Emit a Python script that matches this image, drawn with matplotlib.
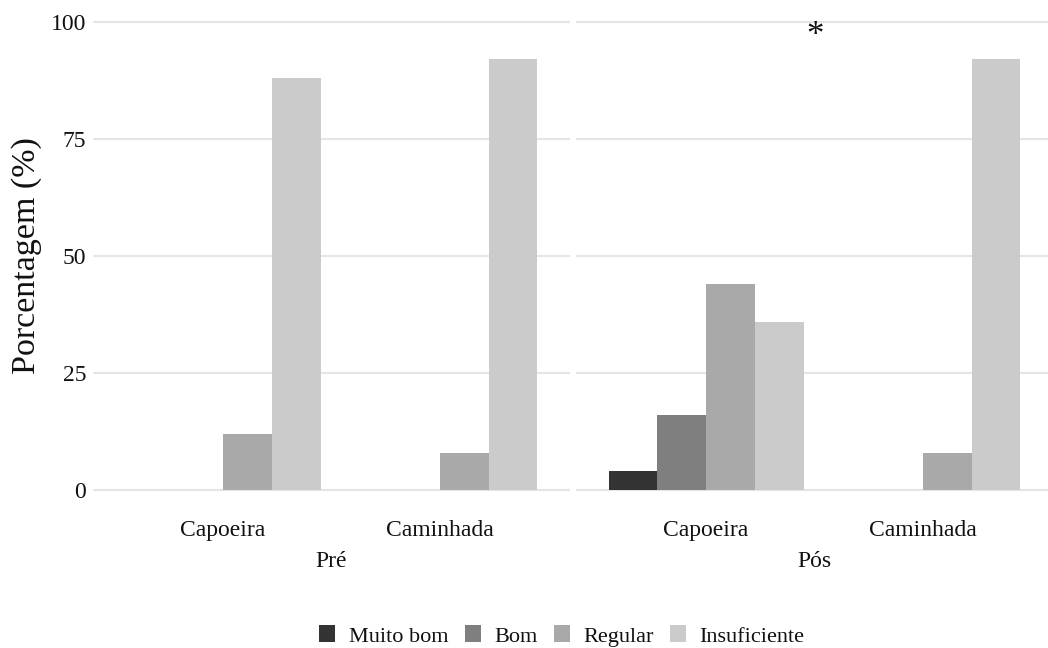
import matplotlib
matplotlib.use("Agg")
import matplotlib.pyplot as plt
from matplotlib.patches import Patch
import numpy as np

plt.rcParams['font.family'] = ['Liberation Serif', 'DejaVu Serif']

# Data
periods = ["Pré", "Pós"]
groups = ["Capoeira", "Caminhada"]
levels = ["Muito bom", "Bom", "Regular", "Insuficiente"]
colors = ["#333333", "#7f7f7f", "#a9a9a9", "#cbcbcb"]

# percentages per period, per group, per level
pre_capoeira = [0, 0, 12, 88]
pre_caminhada = [0, 0, 8, 92]
pos_capoeira = [4, 16, 44, 36]
pos_caminhada = [0, 0, 8, 92]

values = {
    "Pré": [pre_capoeira, pre_caminhada],
    "Pós": [pos_capoeira, pos_caminhada],
}
star_period = "Pós"
star_y = 96.8

W, H = 1048, 648
fig = plt.figure(figsize=(W / 100, H / 100), dpi=100)

panel_px = [(93, 570), (576, 1053)]
top_px, bottom_px = -1.4, 513.4

txt = "#111111"
grid_color = "#e5e5e5"
bar_w = 0.9 / len(levels)
x = np.arange(1, len(groups) + 1)

axes = []
for k, (period, (l, r)) in enumerate(zip(periods, panel_px)):
    ax = fig.add_axes([l / W, 1 - bottom_px / H, (r - l) / W, (bottom_px - top_px) / H])
    axes.append(ax)
    vals = values[period]
    for i, (lev, col) in enumerate(zip(levels, colors)):
        heights = [vals[g][i] for g in range(len(groups))]
        ax.bar(x + (i - 1.5) * bar_w, heights, width=bar_w, color=col,
               linewidth=0, zorder=3, label=lev)
    ax.set_xlim(0.4, 2.6)
    ax.set_ylim(-5, 105)
    ax.set_yticks([0, 25, 50, 75, 100])
    ax.yaxis.grid(True, color=grid_color, linewidth=1.5, zorder=0)
    ax.xaxis.grid(False)
    ax.set_axisbelow(True)
    for s in ax.spines.values():
        s.set_visible(False)
    ax.set_xticks(x)
    ax.set_xticklabels(groups, fontsize=17)
    ax.tick_params(axis="both", length=0, labelsize=17, colors=txt)
    ax.tick_params(axis="x", pad=5)
    ax.tick_params(axis="y", pad=5)
    ax.set_xlabel(period, fontsize=17, labelpad=7, color=txt)
    if k == 0:
        ax.set_ylabel("Porcentagem (%)", fontsize=24.5, labelpad=6, color=txt)
    else:
        ax.tick_params(axis="y", labelleft=False)
    if period == star_period:
        ax.text(1.5, star_y, "*", ha="center", va="center", fontsize=25, color=txt)

handles = [Patch(facecolor=c, edgecolor="none", label=l) for l, c in zip(levels, colors)]
fig.legend(handles=handles, loc="center", bbox_to_anchor=(562 / W, 1 - 636 / H),
           ncol=4, frameon=False, fontsize=16, handlelength=0.72, handleheight=0.78,
           handletextpad=0.6, columnspacing=0.75, labelcolor=txt)

fig.savefig("out.png", dpi=100, facecolor="white")
